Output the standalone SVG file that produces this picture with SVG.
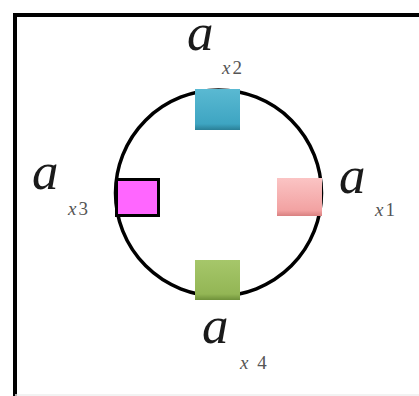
<svg xmlns="http://www.w3.org/2000/svg" width="419" height="396" viewBox="0 0 419 396">
<style>
.a{font-family:"Liberation Serif","Times New Roman",serif;font-style:italic;font-size:53px;fill:#1a1a1a}
.s{font-family:"Liberation Serif","Times New Roman",serif;font-size:19px;fill:#555;letter-spacing:2px}
</style>
<defs>
<linearGradient id="gb" x1="0" y1="0" x2="0" y2="1"><stop offset="0" stop-color="#5ab9d2"/><stop offset="0.85" stop-color="#3ea5c2"/><stop offset="1" stop-color="#2a7f97"/></linearGradient>
<linearGradient id="gp" x1="0" y1="0" x2="0" y2="1"><stop offset="0" stop-color="#fbc4c4"/><stop offset="0.85" stop-color="#f2a2a2"/><stop offset="1" stop-color="#d98080"/></linearGradient>
<linearGradient id="gg" x1="0" y1="0" x2="0" y2="1"><stop offset="0" stop-color="#a6c76a"/><stop offset="0.85" stop-color="#93b655"/><stop offset="1" stop-color="#6f913a"/></linearGradient>
</defs>
<rect width="419" height="396" fill="#fff"/>
<g id="frame" fill="none" stroke="#000" stroke-width="4">
<path d="M15 396 V15 H419"/>
<line x1="15" y1="395" x2="419" y2="395" stroke="#eee" stroke-width="1.5"/>
</g>
<g id="connectors">
<circle cx="218.5" cy="193" r="103" fill="none" stroke="#000" stroke-width="3.5"/>
</g>
<g id="n2"><rect x="195" y="89" width="45" height="41" fill="url(#gb)"/><text class="a" x="187" y="50">a</text><text class="s" x="222" y="74"><tspan font-style="italic">x</tspan>2</text></g>
<g id="n3"><rect x="116.5" y="179.5" width="42" height="36" fill="#ff66ff" stroke="#000" stroke-width="3"/><text class="a" x="32" y="189">a</text><text class="s" x="68" y="215"><tspan font-style="italic">x</tspan>3</text></g>
<g id="n1"><rect x="277" y="178" width="45" height="38" fill="url(#gp)"/><text class="a" x="339" y="193">a</text><text class="s" x="375" y="216"><tspan font-style="italic">x</tspan>1</text></g>
<g id="n4"><rect x="195" y="260" width="45" height="40" fill="url(#gg)"/><text class="a" x="202" y="343">a</text><text class="s" x="240" y="369"><tspan font-style="italic">x</tspan> 4</text></g>
</svg>
